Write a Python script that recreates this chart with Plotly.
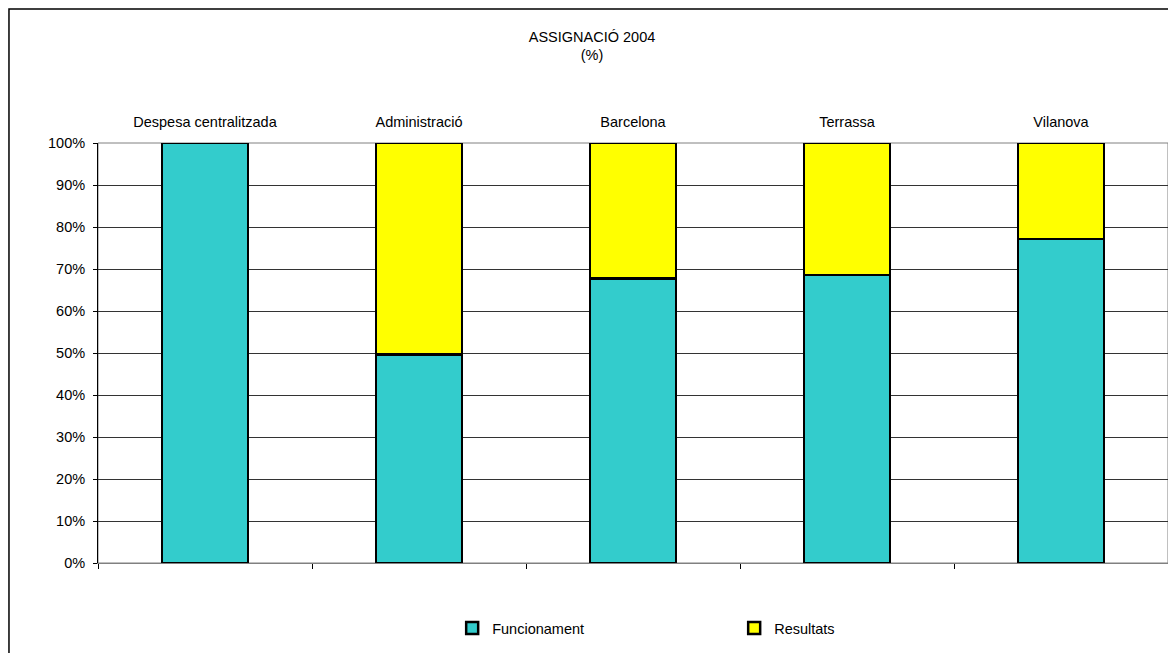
import plotly.graph_objects as go

categories = ["Despesa centralitzada", "Administració", "Barcelona", "Terrassa", "Vilanova"]
funcionament = [100.0, 49.6, 67.7, 68.6, 77.1]
resultats = [0.0, 50.4, 32.3, 31.4, 22.9]
y_ticks = [0, 10, 20, 30, 40, 50, 60, 70, 80, 90, 100]
y_tick_labels = [f"{v}%" for v in y_ticks]

FONT = "Liberation Sans, Arial, sans-serif"
FS = 14.5

fig = go.Figure()
fig.add_trace(go.Bar(name="Funcionament", x=categories, y=funcionament,
                     marker=dict(color="#33CCCC", line=dict(color="black", width=2.5)),
                     width=0.4))
fig.add_trace(go.Bar(name="Resultats", x=categories, y=resultats,
                     marker=dict(color="#FFFF00", line=dict(color="black", width=2.5)),
                     width=0.4))
# invisible trace to carry the bottom category axis
fig.add_trace(go.Scatter(x=categories, y=[0] * len(categories), xaxis="x2",
                         mode="markers", marker=dict(opacity=0), showlegend=False,
                         hoverinfo="skip"))

fig.update_layout(
    barmode="stack",
    width=1168, height=645,
    margin=dict(l=90, r=8, t=135, b=90),
    paper_bgcolor="white", plot_bgcolor="white",
    font=dict(family=FONT, size=FS, color="black"),
    title=dict(text="ASSIGNACIÓ 2004<br>(%)", x=0.5, xanchor="center",
               y=0.948, yanchor="top", font=dict(family=FONT, size=FS, color="black")),
    xaxis=dict(side="top", type="category", showline=False, ticks="",
               showgrid=False, ticklabelstandoff=12, range=[-0.5, 4.5],
               tickfont=dict(size=FS)),
    xaxis2=dict(overlaying="x", side="bottom", type="category", anchor="y",
                matches="x", showline=True, linecolor="#808080", linewidth=1,
                ticks="outside", ticklen=5, tickcolor="black", tickson="boundaries",
                showticklabels=False, showgrid=False),
    yaxis=dict(range=[0, 100], tickvals=y_ticks, ticktext=y_tick_labels,
               showline=True, linecolor="black", linewidth=1, ticks="outside",
               ticklen=4, tickcolor="black", showgrid=True, gridcolor="#333333",
               gridwidth=1, zeroline=False, tickfont=dict(size=FS),
               ticklabelstandoff=5),
    legend=dict(orientation="h", x=0.331, xanchor="left", y=-0.155, yanchor="middle",
                entrywidth=237, entrywidthmode="pixels", font=dict(size=FS),
                itemwidth=30, traceorder="normal"),
    bargap=0.6,
)

# plot-area border (gray) and outer chart border
fig.add_shape(type="rect", xref="paper", yref="paper", x0=0, x1=1, y0=0, y1=1,
              line=dict(color="#808080", width=1), layer="below")
fig.add_shape(type="rect", xref="paper", yref="paper", x0=-0.0832, x1=1.02,
              y0=-0.35, y1=1.319, line=dict(color="black", width=1.5))

fig.write_html("out.html")
